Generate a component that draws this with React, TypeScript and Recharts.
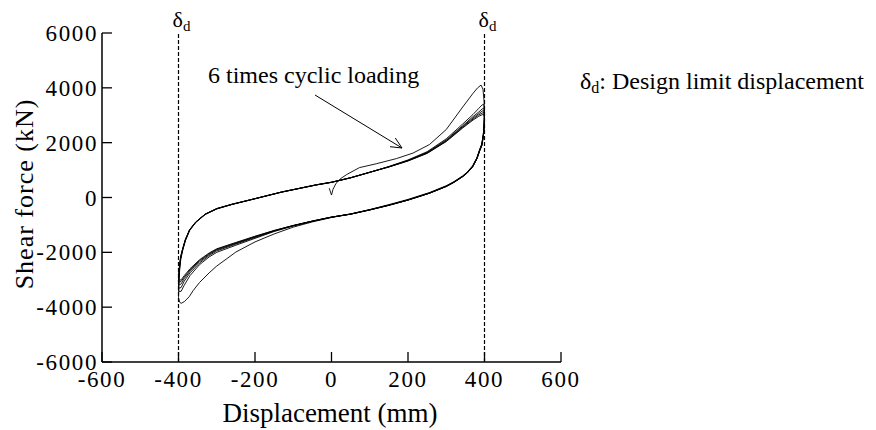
import {
  LineChart, Line, XAxis, YAxis, ReferenceLine,
} from 'recharts';

const FONT = "'Liberation Serif', 'Times New Roman', serif";

const xTicks = [-600, -400, -200, 0, 200, 400, 600];
const yTicks = [-6000, -4000, -2000, 0, 2000, 4000, 6000];
const designLimits = [-400, 400];

// each cycle: loading branch (-400 -> +400) then unloading branch (+400 -> -400)
const cycle1: number[][] = [
  [-6, 340], [0, 90], [4, 300], [12, 520], [25, 700], [40, 840], [73, 1090], [117, 1230],
  [170, 1420], [213, 1620], [256, 1930], [300, 2480], [343, 3300], [370, 3800], [382, 4000],
  [391, 4100], [396, 3950], [399, 3500],
  [400, 3000], [399, 2650], [397, 2300], [393, 1950], [388, 1780], [380, 1450], [369, 1160],
  [355, 930], [343, 790], [320, 580], [300, 430], [256, 180], [200, -70], [150, -260],
  [100, -440], [50, -600], [0, -730], [-50, -890], [-100, -1080], [-150, -1330], [-200, -1620],
  [-250, -1990], [-300, -2500], [-320, -2750], [-345, -3100], [-362, -3400], [-372, -3620],
  [-385, -3800], [-393, -3860], [-397, -3820], [-400, -3650],
];
const cycle2: number[][] = [
  [-400, -3650], [-399, -3150], [-397, -2650], [-394, -2250], [-389, -1930], [-382, -1580],
  [-371, -1210], [-355, -915], [-330, -620], [-300, -420], [-260, -255], [-215, -100],
  [-130, 195], [-40, 455], [0, 550], [50, 715], [100, 915], [150, 1130], [200, 1370],
  [250, 1670], [300, 2140], [343, 2680], [370, 3030], [385, 3250], [394, 3380], [398, 3400],
  [400, 3150], [399, 2700], [397, 2330], [393, 1950], [388, 1760], [380, 1430], [369, 1140],
  [355, 910], [343, 775], [320, 565], [300, 415], [256, 165], [200, -85], [150, -275],
  [100, -445], [50, -600], [0, -720], [-50, -870], [-100, -1040], [-150, -1240], [-200, -1490],
  [-250, -1740], [-300, -2000], [-320, -2170], [-345, -2450], [-370, -2850], [-385, -3200],
  [-393, -3420], [-398, -3430], [-400, -3350],
];
const cycle3: number[][] = [
  [-400, -3350], [-399, -2950], [-397, -2550], [-394, -2200], [-389, -1900], [-382, -1560],
  [-371, -1195], [-355, -905], [-330, -612], [-300, -412], [-260, -250], [-215, -97],
  [-130, 198], [-40, 458], [0, 553], [50, 718], [100, 918], [150, 1125], [200, 1355],
  [250, 1645], [300, 2100], [343, 2620], [370, 2950], [385, 3120], [394, 3230], [398, 3260],
  [400, 3050], [399, 2650], [397, 2290], [393, 1930], [388, 1750], [380, 1420], [369, 1130],
  [355, 905], [343, 770], [320, 560], [300, 410], [256, 160], [200, -90], [150, -280],
  [100, -450], [50, -605], [0, -718], [-50, -865], [-100, -1030], [-150, -1225], [-200, -1460],
  [-250, -1700], [-300, -1950], [-320, -2120], [-345, -2390], [-370, -2750], [-385, -3050],
  [-393, -3280], [-398, -3310], [-400, -3250],
];
const cycle4: number[][] = [
  [-400, -3250], [-399, -2850], [-397, -2500], [-394, -2170], [-389, -1880], [-382, -1545],
  [-371, -1185], [-355, -900], [-330, -608], [-300, -408], [-260, -248], [-215, -95],
  [-130, 200], [-40, 460], [0, 556], [50, 720], [100, 920], [150, 1120], [200, 1345],
  [250, 1630], [300, 2075], [343, 2590], [370, 2900], [385, 3060], [394, 3150], [398, 3170],
  [400, 2980], [399, 2600], [397, 2260], [393, 1910], [388, 1740], [380, 1415], [369, 1125],
  [355, 900], [343, 765], [320, 555], [300, 405], [256, 158], [200, -92], [150, -282],
  [100, -452], [50, -607], [0, -716], [-50, -862], [-100, -1025], [-150, -1215], [-200, -1440],
  [-250, -1675], [-300, -1915], [-320, -2080], [-345, -2340], [-370, -2690], [-385, -2960],
  [-393, -3150], [-398, -3190], [-400, -3130],
];
const cycle5: number[][] = [
  [-400, -3130], [-399, -2780], [-397, -2460], [-394, -2150], [-389, -1870], [-382, -1535],
  [-371, -1180], [-355, -895], [-330, -605], [-300, -405], [-260, -246], [-215, -93],
  [-130, 202], [-40, 462], [0, 558], [50, 722], [100, 921], [150, 1115], [200, 1338],
  [250, 1618], [300, 2055], [343, 2560], [370, 2860], [385, 3010], [394, 3080], [398, 3100],
  [400, 2920], [399, 2560], [397, 2230], [393, 1895], [388, 1730], [380, 1410], [369, 1120],
  [355, 897], [343, 762], [320, 552], [300, 402], [256, 156], [200, -94], [150, -284],
  [100, -454], [50, -608], [0, -715], [-50, -860], [-100, -1022], [-150, -1208], [-200, -1425],
  [-250, -1655], [-300, -1890], [-320, -2050], [-345, -2300], [-370, -2640], [-385, -2900],
  [-393, -3060], [-398, -3090], [-400, -3040],
];
const cycle6: number[][] = [
  [-400, -3040], [-399, -2720], [-397, -2420], [-394, -2130], [-389, -1860], [-382, -1528],
  [-371, -1175], [-355, -892], [-330, -603], [-300, -403], [-260, -244], [-215, -92],
  [-130, 203], [-40, 463], [0, 559], [50, 723], [100, 921], [150, 1112], [200, 1332],
  [250, 1608], [300, 2040], [343, 2535], [370, 2825], [385, 2960], [394, 3020], [398, 3030],
  [400, 2860], [399, 2520], [397, 2200], [393, 1880], [388, 1720], [380, 1405], [369, 1117],
  [355, 895], [343, 760], [320, 550], [300, 400], [256, 155], [200, -95], [150, -285],
  [100, -455], [50, -609], [0, -714], [-50, -858], [-100, -1020], [-150, -1202], [-200, -1412],
  [-250, -1640], [-300, -1870], [-320, -2025], [-345, -2270], [-370, -2600], [-385, -2850],
  [-393, -3000], [-398, -3020], [-400, -2980],
];

const cycles = [cycle1, cycle2, cycle3, cycle4, cycle5, cycle6];
const toPoints = (c: number[][]) => c.map(([x, y]) => ({ x, y }));

const XTick = ({ x, y, payload }: any) => (
  <text x={x} y={y} dy="0.71em" textAnchor="middle" fontFamily={FONT} fontSize={23}
    letterSpacing={1.6} fill="#000">
    {payload.value}
  </text>
);

const YTick = ({ x, y, payload }: any) => (
  <text x={x} y={y} dy="0.355em" textAnchor="end" fontFamily={FONT} fontSize={23}
    letterSpacing={1.6} fill="#000">
    {payload.value}
  </text>
);

const renderDelta = (props: any) => {
  const vb = props.viewBox || {};
  return (
    <text x={vb.x - 6} y={vb.y - 6} fontFamily={FONT} fontSize={22} fill="#000">
      δ<tspan fontSize={15} dy={4}>d</tspan>
    </text>
  );
};

export default function App() {
  return (
    <div style={{ position: 'absolute', left: 0, top: 0, width: 876, height: 430, background: '#fff' }}>
      <LineChart
        width={876}
        height={430}
        margin={{ top: 33, right: 315, bottom: 38, left: 42 }}
      >
        <XAxis
          type="number" dataKey="x" domain={[-600, 600]} ticks={xTicks}
          height={30} axisLine={{ stroke: '#000', strokeWidth: 1.5 }}
          tickLine={{ stroke: '#000', strokeWidth: 1.3 }} tickSize={-10} tickMargin={19}
          tick={<XTick />} interval={0}
        />
        <XAxis
          xAxisId="top" orientation="top" type="number" domain={[-600, 600]} ticks={xTicks}
          height={0} axisLine={{ stroke: '#000', strokeWidth: 1.5 }}
          tickLine={{ stroke: '#000', strokeWidth: 1.3 }} tickSize={-10} tick={false}
        />
        <YAxis
          type="number" domain={[-6000, 6000]} ticks={yTicks} width={60}
          axisLine={{ stroke: '#000', strokeWidth: 1.5 }}
          tickLine={{ stroke: '#000', strokeWidth: 1.3 }} tickSize={-10} tickMargin={14}
          tick={<YTick />} interval={0}
        />
        <YAxis
          yAxisId="right" orientation="right" type="number" domain={[-6000, 6000]} ticks={yTicks}
          width={0} axisLine={{ stroke: '#000', strokeWidth: 1.5 }}
          tickLine={{ stroke: '#000', strokeWidth: 1.3 }} tickSize={-10} tick={false}
        />
        {designLimits.map((d) => (
          <ReferenceLine
            key={d} x={d} stroke="#000" strokeWidth={1.2} strokeDasharray="4 2"
            label={renderDelta}
          />
        ))}
        {cycles.map((c, i) => (
          <Line
            key={i} data={toPoints(c)} dataKey="y" type="linear" stroke="#000"
            strokeWidth={0.9} dot={false} isAnimationActive={false}
          />
        ))}
      </LineChart>
      <svg width={876} height={430} style={{ position: 'absolute', left: 0, top: 0, pointerEvents: 'none' }}>
        <text
          x={33} y={194} transform="rotate(-90, 33, 194)" textAnchor="middle"
          fontFamily={FONT} fontSize={26} letterSpacing={1} fill="#000"
        >
          Shear force (kN)
        </text>
        <text x={330} y={422} textAnchor="middle" fontFamily={FONT} fontSize={27} fill="#000">
          Displacement (mm)
        </text>
        <text x={208} y={83} fontFamily={FONT} fontSize={24} fill="#000">
          6 times cyclic loading
        </text>
        <line x1={315} y1={95} x2={402} y2={148} stroke="#000" strokeWidth={1} />
        <polyline points="390,146.7 402,148 395.3,138" fill="none" stroke="#000" strokeWidth={1} />
        <text x={580} y={89} fontFamily={FONT} fontSize={24} fill="#000">
          δ<tspan fontSize={16} dy={4}>d</tspan><tspan dy={-4}>: Design limit displacement</tspan>
        </text>
      </svg>
    </div>
  );
}
